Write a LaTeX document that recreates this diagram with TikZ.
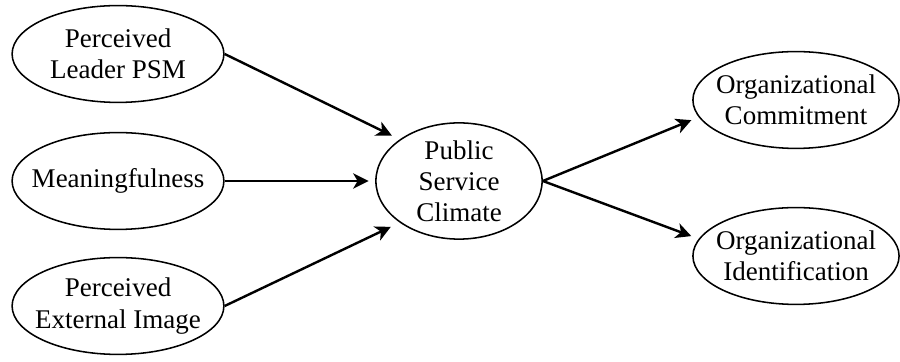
\documentclass[tikz,border=0pt]{standalone}
\usepackage{fontspec}
\setmainfont{Liberation Serif}
\usetikzlibrary{shapes.geometric, arrows.meta}

\begin{document}
\begin{tikzpicture}[x=0.016cm, y=-0.016cm,
    every node/.style={font=\fontsize{12.3}{14.2}\selectfont, align=center},
    latent/.style={ellipse, draw, line width=0.7pt, inner xsep=-12pt, inner ysep=0pt},
    small/.style={latent, minimum width=3.39cm, minimum height=1.55cm},
    big/.style={latent, minimum width=2.66cm, minimum height=1.86cm},
    path/.style={line width=1.1pt, -{Stealth[length=7pt, width=7pt, inset=2pt]}}]
    \useasboundingbox (0,0) rectangle (900,362);

    \node[small] (pl) at (118,54) {Perceived\\Leader PSM};
    \node[small] (me) at (118,181) {Meaningfulness};
    \node[small] (pe) at (118,306) {Perceived\\External Image};
    \node[big] (psc) at (459,181) {Public\\Service\\Climate};
    \node[small, minimum width=3.3cm] (oc) at (796,100) {Organizational\\Commitment};
    \node[small, minimum width=3.3cm] (oi) at (796,256) {Organizational\\Identification};

    \draw[path, shorten >=4pt] (pl.east) -- (psc.north west);
    \draw[path, shorten >=3pt] (me.east) -- (psc.west);
    \draw[path, shorten >=4.5pt] (pe.east) -- (psc.south west);
    \draw[path, shorten >=3.6pt] (psc.east) -- (oc.190);
    \draw[path, shorten >=3.6pt] (psc.east) -- (oi.170);
\end{tikzpicture}
\end{document}
